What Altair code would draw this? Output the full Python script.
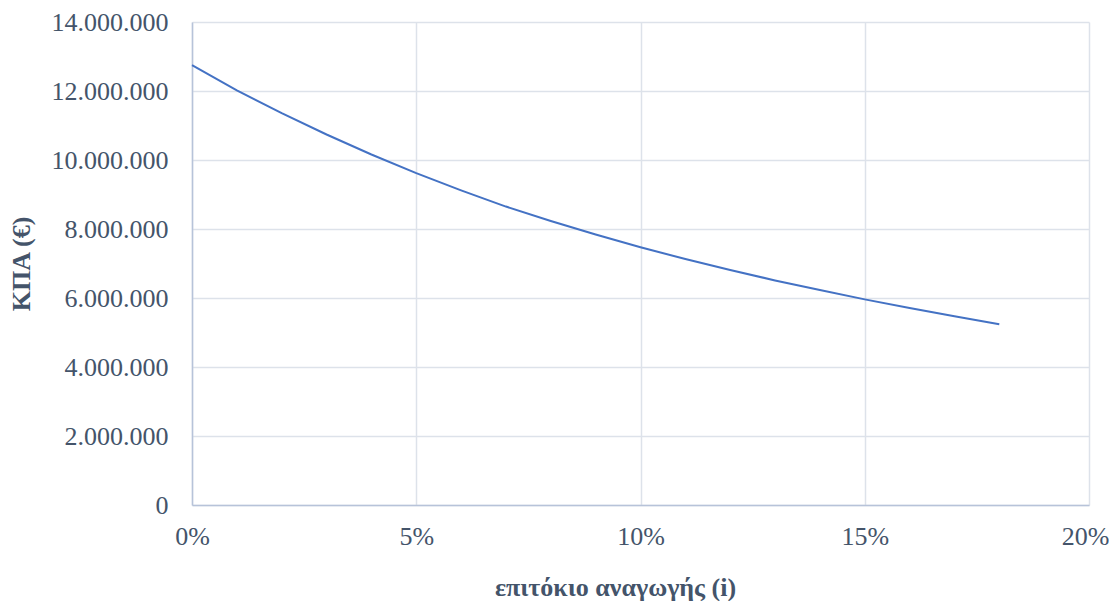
import altair as alt
import pandas as pd

rates = [0.00, 0.01, 0.02, 0.03, 0.04, 0.05, 0.06, 0.07, 0.08, 0.09, 0.10,
         0.11, 0.12, 0.13, 0.14, 0.15, 0.16, 0.17, 0.18]
npv = [12750000, 12020000, 11360000, 10740000, 10160000, 9620000, 9120000,
       8650000, 8230000, 7840000, 7470000, 7130000, 6810000, 6510000, 6230000,
       5960000, 5710000, 5470000, 5240000]

df = pd.DataFrame({"i": rates, "kpa": npv})

font = "Liberation Serif"
label_color = "#44546A"

chart = alt.Chart(df).mark_line(color="#4472C4", strokeWidth=2).encode(
    x=alt.X("i:Q",
            scale=alt.Scale(domain=[0, 0.2], nice=False),
            axis=alt.Axis(values=[0, 0.05, 0.10, 0.15, 0.20], format=".0%",
                          title="επιτόκιο αναγωγής (i)", titlePadding=25,
                          titleX=423, labelPadding=18, labelFlush=False,
                          labelOffset={"condition": {"test": "datum.value >= 0.2", "value": -4},
                                       "value": 0})),
    y=alt.Y("kpa:Q",
            scale=alt.Scale(domain=[0, 14000000], nice=False),
            axis=alt.Axis(values=[0, 2000000, 4000000, 6000000, 8000000,
                                  10000000, 12000000, 14000000],
                          labelExpr="replace(format(datum.value, ','), regexp(',', 'g'), '.')",
                          title="ΚΠΑ (€)", titlePadding=17, labelPadding=24,
                          labelFlush=False)),
).properties(
    width=897, height=483,
    autosize=alt.AutoSizeParams(type="none"),
    padding={"left": 184, "top": 14, "right": 20, "bottom": 96},
).configure_view(stroke=None).configure_axis(
    labelFont=font, labelFontSize=26, labelColor=label_color,
    titleFont=font, titleFontSize=26, titleColor=label_color, titleFontWeight="bold",
    gridColor="#DDE2EA", gridWidth=1.5, domainColor="#B7C3D9", domainWidth=1.5,
    ticks=False,
)

chart.save("out.html", embed_options={"renderer": "svg", "actions": False})
